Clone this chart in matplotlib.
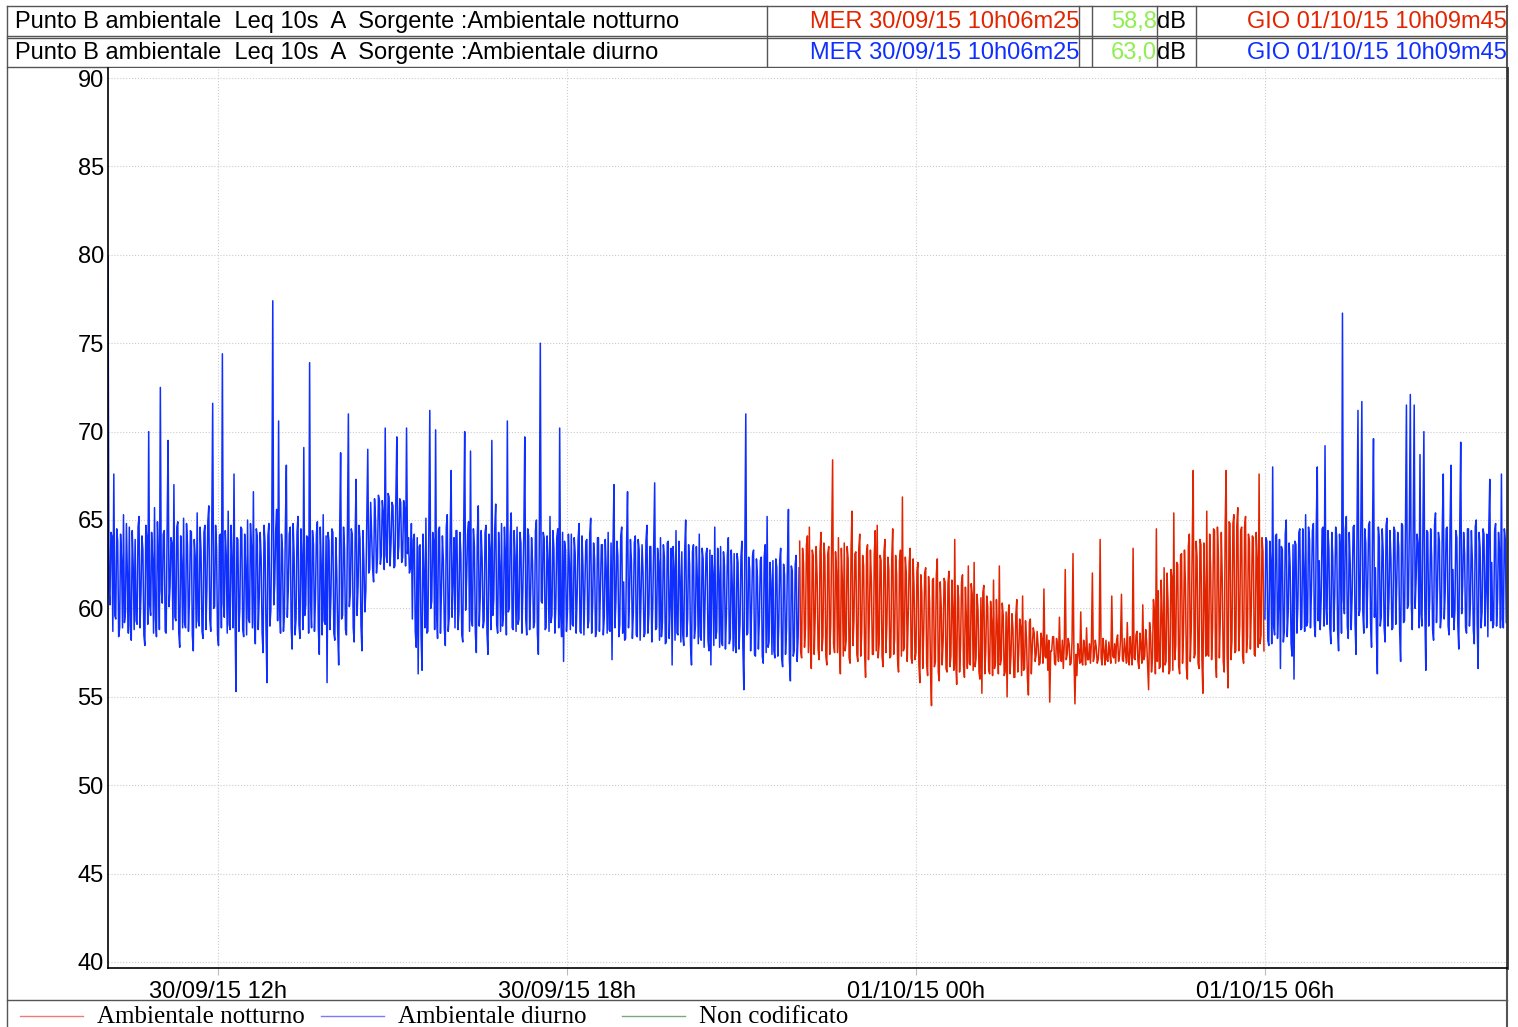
import matplotlib
matplotlib.use('Agg')
import numpy as np
import matplotlib.pyplot as plt

# letture Leq (dB), una ogni 2 minuti (minuti pari)
# periodo diurno 30/09 10h06m25 -> 22h00
day1_db = [
    79.9, 60.2, 64.1, 67.6, 59.4, 63.8, 58.9, 62.7, 65.3, 59.8, 61.9, 64.6, 58.2, 62.4, 63.9,
    59.1, 65.2, 60.8, 63.3, 57.9, 64.0, 70.0, 59.6, 62.8, 65.7, 58.4, 63.1, 72.5, 60.3, 64.4,
    58.6, 69.5, 61.2, 63.7, 67.0, 59.3, 64.9, 57.8, 62.5, 65.1, 58.9, 63.6, 60.4, 64.3, 57.6,
    62.9, 65.4, 59.0, 63.2, 58.3, 64.7, 61.0, 65.8, 58.7, 71.6, 60.1, 63.4, 57.9, 64.2, 74.4,
    59.5, 63.0, 65.5, 58.8, 62.6, 67.6, 55.3, 63.9, 60.0, 64.5, 58.4, 62.3, 65.0, 59.2, 63.5,
    66.6, 58.0, 64.1, 60.6, 62.9, 57.5, 63.7, 55.8, 64.8, 59.9, 77.4, 61.4, 65.6, 70.6, 58.6,
    63.3, 59.7, 68.1, 61.1, 64.6, 57.7, 63.0, 59.4, 65.2, 58.3, 62.7, 69.1, 60.2, 64.0, 73.9,
    58.9, 63.6, 60.5, 64.9, 57.4, 62.4, 65.3, 59.1, 55.8, 63.8, 60.7, 64.3, 58.2, 62.1, 56.8,
    68.8, 59.6, 63.4, 58.5, 71.0, 60.9, 64.2, 58.1, 67.3, 61.3, 63.9, 57.6, 62.6, 61.0, 69.0,
    62.2, 64.1, 61.5, 65.0, 62.8, 66.1, 63.0, 65.4, 70.2, 62.6, 66.3, 63.7, 65.8, 62.4, 69.7,
    63.5, 66.0, 62.9, 65.6, 70.2, 64.0, 62.3, 59.4, 64.2, 57.8, 56.3, 63.6, 56.5, 62.0, 65.1,
    58.7, 71.2, 60.4, 63.8, 70.1, 58.3, 64.6, 60.9, 62.7, 57.9, 65.3, 59.5, 67.8, 61.6, 58.9,
    64.4, 59.8, 63.1, 58.1, 70.0, 61.7, 64.9, 68.9, 59.0, 63.5, 57.5, 65.8, 60.6, 62.8, 59.3,
    64.7, 57.4, 63.2, 69.5, 60.5, 65.9, 58.6, 62.4, 64.8, 59.7, 63.0, 70.6, 60.0, 65.4, 58.8,
    62.9, 64.6, 59.4, 63.7, 61.0, 69.7, 58.5, 64.1, 60.8, 62.6, 59.2, 65.0, 57.4, 75.0, 60.3,
    64.0, 58.9, 62.7, 65.2, 59.6, 63.4, 60.1, 64.5, 70.2, 58.4, 57.0, 63.3, 59.9, 62.5, 64.2,
    59.0, 63.1, 60.7, 64.8, 58.6, 62.4, 61.3, 63.9, 59.3, 65.1, 60.2, 62.8, 58.8, 64.0, 61.0,
    63.6, 59.5, 62.2, 64.3, 58.7, 57.1, 67.0, 60.4, 63.0, 59.1, 64.6, 61.5, 58.3, 66.6, 60.6,
    62.7, 59.8, 64.1, 58.4, 63.3, 60.9, 62.0, 58.6, 64.7, 59.7, 63.5, 60.1, 67.1, 58.9, 62.6,
    64.0, 59.2, 62.9, 58.1, 63.8, 60.3, 56.8, 62.3, 64.4, 58.5, 61.8, 63.2, 57.9, 65.0, 59.4,
    62.5, 56.8, 63.6, 59.0, 61.7, 64.2, 58.2, 62.8, 60.4, 63.4, 57.6, 56.8, 62.0, 64.6, 58.7,
    61.9, 63.5, 57.9, 62.4, 59.6, 64.0, 58.3, 61.4, 63.1, 57.5, 62.6, 59.1, 63.8, 55.4, 71.0,
    58.6, 62.2, 60.0, 63.3, 57.3, 61.8, 59.4, 62.9, 56.9, 63.6, 65.2, 58.1, 61.5, 62.7, 57.2,
    62.3, 59.0, 63.4, 56.7, 61.9, 58.8, 65.6, 55.9, 62.1, 57.6, 63.0, 58.4,
]
# stesse finestre, minuti dispari
day1_db_b = [
    61.0, 64.3, 58.7, 59.6, 64.5, 58.4, 64.2, 58.9, 59.2, 64.8, 58.6, 59.0, 64.4, 58.8, 59.3,
    64.6, 58.9, 64.1, 58.5, 64.7, 59.1, 60.2, 64.3, 58.6, 59.4, 64.9, 58.8, 61.0, 64.2, 58.7,
    64.5, 60.1, 64.0, 58.8, 59.5, 64.6, 58.6, 64.1, 58.9, 59.2, 64.8, 58.7, 64.4, 58.5, 63.9,
    58.9, 59.3, 64.6, 58.7, 64.3, 58.8, 64.9, 59.4, 64.2, 60.0, 64.7, 58.5, 64.1, 58.9, 60.3,
    64.4, 58.6, 59.1, 64.7, 58.9, 59.8, 64.0, 58.7, 64.6, 58.8, 64.2, 58.5, 59.4, 64.8, 58.9,
    59.2, 64.5, 58.8, 64.3, 58.6, 64.7, 58.9, 64.1, 59.0, 64.6, 60.2, 64.4, 59.3, 60.0, 64.2,
    58.7, 64.6, 59.5, 64.2, 58.9, 64.8, 58.5, 64.3, 59.1, 64.5, 58.8, 59.6, 64.1, 58.6, 60.4,
    64.4, 58.7, 64.2, 58.9, 64.6, 58.5, 59.3, 64.1, 64.3, 58.8, 64.5, 58.6, 64.0, 58.7, 64.2,
    59.4, 64.6, 58.8, 64.3, 60.1, 64.5, 58.9, 64.2, 59.6, 64.7, 59.0, 64.4, 59.8, 65.2, 62.0,
    66.0, 62.3, 66.2, 62.0, 66.4, 62.5, 66.1, 62.2, 63.0, 66.5, 62.4, 66.0, 62.3, 66.3, 62.8,
    66.2, 62.6, 66.1, 62.4, 63.1, 62.0, 64.8, 63.9, 58.7, 64.0, 63.5, 58.4, 64.2, 58.9, 58.6,
    64.5, 60.0, 64.3, 58.8, 59.7, 64.4, 58.6, 64.1, 58.9, 64.6, 58.7, 64.2, 59.5, 64.0, 64.4,
    58.8, 64.3, 58.5, 64.6, 59.9, 64.2, 58.7, 59.3, 64.5, 58.6, 64.1, 59.0, 64.4, 58.9, 64.3,
    58.6, 64.2, 58.8, 59.6, 64.5, 59.1, 64.3, 58.7, 59.0, 64.6, 58.5, 59.8, 64.1, 58.9, 64.4,
    58.7, 59.1, 64.3, 58.6, 64.2, 59.4, 64.5, 58.8, 64.0, 58.9, 64.4, 58.6, 64.1, 60.4, 64.3,
    58.8, 64.1, 58.7, 59.2, 64.4, 58.6, 64.0, 58.9, 59.7, 64.3, 63.8, 58.7, 64.2, 58.8, 59.1,
    64.0, 58.6, 63.9, 58.7, 64.1, 58.5, 63.8, 58.9, 64.2, 58.6, 63.7, 58.4, 64.0, 58.7, 63.6,
    58.5, 63.9, 58.6, 58.8, 63.7, 63.5, 58.9, 63.8, 58.4, 64.1, 58.6, 58.2, 63.6, 58.9, 63.9,
    58.3, 63.7, 58.5, 63.9, 58.2, 63.6, 58.4, 63.8, 58.6, 63.5, 58.1, 63.7, 58.8, 63.4, 58.2,
    58.4, 63.6, 58.0, 63.7, 58.3, 63.4, 63.5, 58.2, 58.6, 63.8, 58.1, 58.5, 63.3, 58.4, 63.6,
    57.9, 63.2, 58.3, 63.5, 58.0, 58.4, 63.4, 57.8, 63.1, 58.2, 63.3, 63.0, 57.9, 58.3, 63.4,
    57.8, 58.1, 63.2, 57.7, 63.0, 58.0, 63.3, 57.6, 57.9, 63.1, 57.7, 62.9, 57.8, 62.8, 58.5,
    62.9, 57.6, 63.0, 57.4, 62.8, 57.7, 62.7, 57.3, 62.9, 57.5, 57.8, 62.6, 57.4, 57.6, 62.8,
    57.3, 62.7, 57.2, 62.5, 57.4, 62.6, 57.1, 62.4, 57.3, 62.5, 57.0, 62.3,
]
# periodo notturno 22h00 -> 06h00
night_db = [
    63.8, 57.2, 62.5, 58.9, 64.1, 64.6, 56.6, 63.0, 59.5, 61.8, 57.1, 64.3, 58.4, 62.9, 56.8,
    63.5, 59.0, 68.4, 57.5, 62.1, 64.0, 56.3, 61.6, 63.7, 58.2, 62.8, 56.9, 65.5, 59.3, 63.2,
    57.0, 64.2, 58.6, 62.4, 56.1, 63.6, 59.8, 61.5, 57.4, 64.4, 64.7, 58.0, 62.7, 56.7, 63.9,
    59.1, 62.2, 57.3, 64.5, 58.3, 61.9, 56.4, 63.3, 66.3, 57.8, 62.0, 59.6, 63.4, 56.9, 61.2,
    57.5, 62.6, 55.8, 60.9, 58.7, 62.3, 56.2, 60.4, 54.5, 61.7, 57.0, 62.8, 55.9, 60.2, 58.1,
    61.5, 56.4, 62.1, 57.3, 59.8, 63.9, 55.7, 60.6, 57.9, 61.9, 56.1, 59.4, 62.4, 56.8, 60.8,
    62.6, 57.2, 59.9, 56.0, 55.2, 61.3, 57.6, 60.1, 56.3, 59.2, 61.6, 56.9, 58.8, 62.4, 57.1,
    59.6, 56.4, 55.0, 60.2, 57.3, 58.9, 56.1, 60.5, 57.5, 59.0, 60.7, 56.6, 58.3, 55.1, 59.4,
    57.8, 58.6, 57.4, 57.9, 56.9, 58.2, 61.1, 57.2, 56.5, 54.7, 57.6, 58.4, 56.8, 57.9, 59.5,
    57.0, 56.6, 62.2, 57.4, 58.0, 56.9, 63.1, 54.6, 56.2, 57.5, 59.8, 56.8, 57.7, 58.9, 57.1,
    56.9, 62.0, 57.3, 57.8, 57.1, 63.9, 56.8, 57.6, 58.2, 57.0, 57.4, 60.7, 57.2, 56.9, 58.5,
    57.3, 60.8, 57.0, 57.6, 59.2, 56.8, 57.5, 63.4, 57.1, 58.7, 56.6, 57.9, 60.2, 57.3, 58.1,
    55.4, 58.6, 57.2, 59.8, 64.5, 61.0, 56.7, 59.5, 62.3, 57.0, 60.4, 56.5, 61.8, 65.4, 57.9,
    62.5, 56.3, 63.1, 58.6, 61.4, 56.0, 64.2, 58.8, 67.8, 57.4, 62.9, 56.6, 63.6, 55.2, 60.7,
    65.5, 57.3, 62.2, 58.9, 64.4, 56.1, 63.0, 59.5, 61.6, 56.4, 67.8, 55.5, 64.8, 58.2, 65.3,
    57.6, 65.7, 59.0, 64.6, 56.9, 65.2, 58.4, 63.8, 60.1, 64.0, 57.3, 62.7, 67.6, 58.5, 63.2,
]
night_db_b = [
    57.6, 63.4, 57.8, 63.6, 57.5, 57.9, 63.3, 57.4, 63.5, 57.7, 63.2, 57.6, 63.7, 57.3, 63.1,
    57.4, 63.6, 58.0, 63.2, 57.5, 57.8, 63.4, 57.3, 57.6, 63.5, 57.2, 63.3, 57.9, 63.1, 57.4,
    63.4, 57.3, 63.0, 57.5, 63.2, 57.1, 63.3, 57.4, 63.1, 57.6, 57.2, 63.0, 57.3, 63.2, 57.5,
    62.9, 57.2, 62.8, 57.4, 63.0, 57.1, 62.7, 57.3, 57.6, 62.9, 57.0, 62.6, 57.2, 62.8, 57.1,
    62.1, 56.8, 61.9, 56.6, 62.0, 56.9, 61.8, 56.5, 61.6, 56.7, 61.9, 56.4, 61.5, 56.8, 61.7,
    56.6, 61.4, 56.7, 61.6, 56.5, 57.0, 61.3, 56.4, 61.5, 56.8, 61.2, 56.6, 56.9, 61.4, 56.5,
    56.7, 60.8, 56.4, 60.6, 60.9, 56.3, 60.7, 56.5, 60.4, 56.2, 56.6, 60.5, 56.3, 56.8, 60.3,
    56.2, 59.8, 59.5, 56.3, 59.7, 56.1, 59.6, 56.4, 59.4, 56.2, 56.5, 59.3, 56.0, 59.2, 56.3,
    58.9, 57.0, 58.7, 56.8, 58.6, 56.9, 57.3, 58.5, 58.2, 57.6, 58.4, 56.9, 58.3, 57.0, 57.2,
    58.2, 58.0, 57.1, 58.3, 56.8, 58.1, 57.2, 57.4, 58.0, 56.9, 57.0, 58.2, 56.8, 57.1, 58.0,
    58.1, 57.0, 58.2, 56.9, 58.0, 57.2, 58.3, 56.8, 57.1, 58.1, 56.9, 57.3, 58.0, 58.2, 57.0,
    58.2, 57.1, 58.3, 56.9, 57.0, 58.4, 56.8, 57.2, 58.5, 57.0, 58.6, 56.9, 57.1, 58.8, 56.7,
    59.2, 56.4, 60.5, 56.3, 57.0, 56.6, 61.6, 56.4, 56.8, 62.0, 56.3, 62.2, 56.5, 57.1, 62.6,
    56.8, 63.0, 56.9, 63.3, 56.6, 63.5, 57.0, 63.6, 57.2, 63.8, 56.9, 63.9, 57.1, 63.7, 57.3,
    57.4, 64.2, 57.1, 64.5, 57.3, 64.6, 57.2, 64.3, 57.0, 64.7, 57.4, 64.9, 57.1, 64.8, 57.5,
    64.7, 57.6, 64.4, 57.3, 64.6, 57.5, 64.2, 57.7, 64.1, 57.4, 64.3, 57.8, 58.0, 64.0, 57.6,
]
# periodo diurno 01/10 06h00 -> 10h09m45
day2_db = [
    59.4, 63.8, 57.9, 62.6, 68.0, 58.5, 64.2, 60.1, 56.6, 63.3, 58.7, 65.0, 59.8, 62.4, 57.3,
    56.0, 63.6, 60.2, 64.5, 58.9, 62.1, 65.3, 59.2, 63.9, 61.0, 64.8, 58.4, 68.0, 62.7, 60.5,
    64.6, 69.2, 59.1, 63.4, 58.0, 62.9, 60.7, 64.1, 57.6, 63.0, 76.7, 59.7, 65.2, 58.3, 62.5,
    60.8, 64.7, 57.4, 71.2, 59.9, 71.7, 58.6, 63.7, 61.2, 64.9, 57.8, 69.6, 62.3, 56.3, 64.0,
    59.5, 63.2, 58.1, 65.1, 60.6, 62.8, 58.9, 64.4, 61.4, 63.5, 57.0, 64.7, 59.3, 71.5, 60.2,
    72.1, 58.8, 71.5, 61.7, 63.6, 68.7, 59.0, 70.0, 56.5, 64.3, 60.4, 62.9, 58.2, 65.4, 61.1,
    63.8, 59.6, 67.6, 60.9, 64.6, 58.5, 68.1, 62.2, 59.9, 64.0, 57.7, 69.4, 61.3, 63.1, 58.6,
    64.5, 60.3, 62.7, 58.0, 65.0, 56.6, 63.4, 59.8, 64.2, 61.0, 58.4, 67.3, 62.6, 59.1, 64.8,
    60.5, 63.3, 67.6, 58.9, 63.9,
]
day2_db_b = [
    64.0, 58.2, 63.8, 58.0, 59.0, 64.1, 58.3, 63.9, 63.5, 58.1, 64.2, 58.4, 63.7, 58.0, 63.6,
    63.8, 58.6, 64.3, 58.8, 64.5, 58.7, 59.0, 64.6, 58.9, 64.4, 59.1, 64.7, 59.3, 58.8, 64.5,
    59.0, 60.1, 64.4, 58.9, 64.3, 58.7, 64.6, 58.8, 64.2, 58.6, 60.5, 64.5, 59.0, 64.3, 58.8,
    64.6, 59.1, 64.4, 59.6, 64.8, 59.8, 64.5, 58.9, 64.7, 59.2, 64.3, 59.5, 58.8, 64.6, 59.0,
    64.5, 58.9, 64.7, 59.0, 64.4, 58.8, 64.6, 59.1, 64.3, 58.7, 64.8, 59.2, 64.5, 60.0, 64.6,
    60.3, 64.7, 60.0, 64.2, 58.9, 59.7, 64.6, 59.8, 64.4, 59.0, 64.5, 58.8, 64.7, 59.2, 64.3,
    58.9, 64.6, 59.4, 64.5, 59.0, 64.7, 59.5, 58.8, 64.4, 59.1, 64.6, 59.7, 64.3, 58.9, 64.5,
    59.0, 64.4, 58.8, 64.6, 59.1, 64.3, 58.9, 64.5, 59.0, 64.2, 64.6, 59.3, 58.9, 64.4, 59.0,
    64.3, 58.9, 59.4, 64.5, 59.2,
]

t_start = 10 + 6/60 + 25/3600      # MER 30/09/15 10h06m25
t_end = 34 + 9/60 + 45/3600        # GIO 01/10/15 10h09m45
passo = 2/60                       # ore
xtick_h = [12, 18, 24, 30]
xtick_lab = ['30/09/15 12h', '30/09/15 18h', '01/10/15 00h', '01/10/15 06h']
ytick_db = [40, 45, 50, 55, 60, 65, 70, 75, 80, 85, 90]

header = [
    ('Punto B ambientale  Leq 10s  A  Sorgente :Ambientale notturno', 'MER 30/09/15 10h06m25', '58,8', 'GIO 01/10/15 10h09m45'),
    ('Punto B ambientale  Leq 10s  A  Sorgente :Ambientale diurno', 'MER 30/09/15 10h06m25', '63,0', 'GIO 01/10/15 10h09m45'),
]
legenda = ['Ambientale notturno', 'Ambientale diurno', 'Non codificato']

ROSSO = '#e32400'
BLU = '#0f2fff'
VERDE = '#90ee50'


def serie(t0, pari, dispari):
    t = t0 + passo * np.arange(len(pari))
    tt = np.column_stack((t, t + passo / 2)).ravel()
    vv = np.column_stack((pari, dispari)).ravel()
    return tt, vv


t1, v1 = serie(t_start, day1_db, day1_db_b)
t2, v2 = serie(22.0, night_db, night_db_b)
t3, v3 = serie(30.0, day2_db, day2_db_b)

font = 'Liberation Sans'
fsize = 17

W, H = 1518, 1027
fig = plt.figure(figsize=(W/100, H/100), dpi=100)

# livello di sfondo in pixel per tabella e legenda
bg = fig.add_axes([0, 0, 1, 1])
bg.set_xlim(0, W)
bg.set_ylim(H, 0)
bg.axis('off')

lc = '#555555'
for y in [6, 36, 38, 67]:
    bg.plot([7, 1507], [y, y], color=lc, lw=1)
bg.plot([7, 1507], [1000, 1000], color=lc, lw=1)
bg.plot([7, 7], [6, H], color=lc, lw=1)
for x in [767, 1079, 1092, 1157, 1196]:
    bg.plot([x, x], [6, 67], color=lc, lw=1)
bg.plot([1507, 1507], [6, H], color=lc, lw=1.5)

for row, (titolo, inizio, val, fine) in enumerate(header):
    yc = 22 + row * 31
    col = ROSSO if row == 0 else BLU
    bg.text(15, yc, titolo, ha='left', va='center', fontsize=fsize, family=font)
    bg.text(1079, yc, inizio, ha='right', va='center', fontsize=fsize, family=font, color=col)
    bg.text(1157, yc, val, ha='right', va='center', fontsize=fsize, family=font, color=VERDE)
    bg.text(1157, yc, 'dB', ha='left', va='center', fontsize=fsize, family=font)
    bg.text(1507, yc, fine, ha='right', va='center', fontsize=fsize, family=font, color=col)

leg_col = ['#f07a7a', '#7a7aff', '#7aaa7a']
for k, (lab, c) in enumerate(zip(legenda, leg_col)):
    x0 = 20 + k * 301
    bg.plot([x0, x0 + 63], [1016, 1016], color=c, lw=1)
    bg.text(x0 + 77, 1017, lab, ha='left', va='center', fontsize=18, family='Liberation Serif')

# grafico principale
ax = fig.add_axes([108/W, 1 - 968/H, (1507 - 108)/W, (968 - 68)/H])
ax.plot(t1, v1, color=BLU, lw=1.1)
ax.plot(t2, v2, color=ROSSO, lw=1.1)
ax.plot(t3, v3, color=BLU, lw=1.1)

ax.set_xlim(t_start, t_end)
ax.set_ylim(40 - 6/17.68, 90 + 10/17.68)
ax.set_xticks(xtick_h, xtick_lab)
ax.set_yticks(ytick_db, [str(v) for v in ytick_db])
ax.grid(True, color='#cccccc', linestyle=':', lw=0.8)
ax.tick_params(axis='x', direction='out', length=5, color='#bbbbbb', pad=4, labelsize=fsize)
ax.tick_params(axis='y', length=0, pad=3, labelsize=fsize)
for lab in ax.get_xticklabels() + ax.get_yticklabels():
    lab.set_family(font)
ax.spines['top'].set_visible(False)
ax.spines['left'].set_linewidth(1.2)
ax.spines['bottom'].set_linewidth(1.2)
ax.spines['right'].set_linewidth(2)
ax.spines['right'].set_color('#333333')

fig.savefig('out.png', dpi=100)
